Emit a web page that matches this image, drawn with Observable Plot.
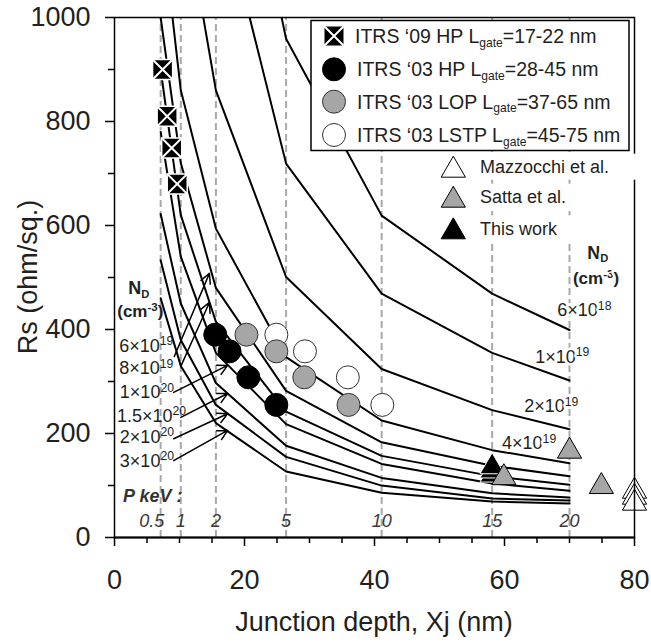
<!DOCTYPE html>
<html><head><meta charset="utf-8">
<script src="https://cdn.jsdelivr.net/npm/d3@7"></script>
<script src="https://cdn.jsdelivr.net/npm/@observablehq/plot@0.6"></script>
<style>body{margin:0;background:#fff}svg{display:block}</style>
</head><body><div id="chart"></div>
<script>
// ---- data ----
const energyLabels = ["0.5", "1", "2", "5", "10", "15", "20"];
const junctionDepths = [7.1, 10.2, 15.6, 26.4, 41.1, 58.1, 70.0];
const dopingNames = ["6e18", "1e19", "2e19", "4e19", "6e19", "8e19", "1e20", "1.5e20", "2e20", "3e20"];
const rs6e18  = [null, null, 1600, 959, 619, 469, 399];
const rs1e19  = [null, null, 1260, 719, 469, 355, 302];
const rs2e19  = [null, 1250, 860, 501, 324, 245, 208];
const rs4e19  = [1200, 860, 594, 347, 225, 168, 143];
const rs6e19  = [1000, 720, 480, 282, 183, 138, 118];
const rs8e19  = [900, 620, 415, 242, 157, 118, 101.5];
const rs1e20  = [780, 540, 355, 218, 141.5, 104, 90];
const rs15e20 = [622, 450, 297, 176.5, 114.6, 85, 77];
const rs2e20  = [533, 380, 255, 155, 99.8, 75, 71];
const rs3e20  = [460, 330, 220, 127, 86, 69, 65.5];
const curves = [rs6e18, rs1e19, rs2e19, rs4e19, rs6e19, rs8e19, rs1e20, rs15e20, rs2e20, rs3e20];

const itrs09X = [7.4, 8.1, 8.8, 9.65];
const itrs09Rs = [900, 810, 749, 680];
const itrsRowRs = [390, 358, 308, 255];
const itrs03hpX = [15.5, 17.7, 20.6, 24.9];
const itrs03lopX = [20.3, 24.9, 29.2, 36.0];
const itrs03lstpX = [24.9, 29.3, 35.9, 41.2];
const mazzocchiX = [80, 80, 80];
const mazzocchiRs = [89, 77.5, 66];
const sattaX = [59.9, 70.0, 74.9];
const sattaRs = [115, 166, 98];
const thisWorkX = [58.1, 58.1, 58.1];
const thisWorkRs = [120, 128, 136];

// annotation text (left curve labels with arrows, right curve labels)
const leftLabels = [
  {m: "6", e: "19", tx: 0.8, ty: 356, ax1: 9.2, ay1: 348, ax2: 14.6, ay2: 508},
  {m: "8", e: "19", tx: 0.8, ty: 313, ax1: 10.2, ay1: 329, ax2: 14.6, ay2: 452},
  {m: "1", e: "20", tx: 0.9, ty: 267, ax1: 9.1, ay1: 279, ax2: 17.4, ay2: 331},
  {m: "1.5", e: "20", tx: 0.45, ty: 222, ax1: 10.2, ay1: 231, ax2: 17.4, ay2: 277},
  {m: "2", e: "20", tx: 0.9, ty: 181, ax1: 9.1, ay1: 190, ax2: 17.4, ay2: 238},
  {m: "3", e: "20", tx: 0.9, ty: 135, ax1: 9.1, ay1: 148, ax2: 17.4, ay2: 206}
];
const rightLabels = [
  {m: "6", e: "18", tx: 68.2, ty: 425},
  {m: "1", e: "19", tx: 64.8, ty: 335},
  {m: "2", e: "19", tx: 63.1, ty: 240},
  {m: "4", e: "19", tx: 59.7, ty: 169}
];

// ---- tables ----
const curveRows = [];
curves.forEach((vals, i) => vals.forEach((v, j) => {
  if (v != null) curveRows.push({nd: dopingNames[i], xj: junctionDepths[j], rs: v});
}));
const pts = (xs, ys) => xs.map((x, i) => ({x, y: ys[i]}));
const itrsRs = (xs) => xs.map((x, i) => ({x, y: itrsRowRs[i]}));
const energyRows = energyLabels.map((e, i) => ({e, x: junctionDepths[i]}));

const FONT = "Liberation Sans, Arial, Helvetica, sans-serif";
const INK = "#231f20";

const plot = Plot.plot({
  width: 651, height: 642,
  marginLeft: 114, marginRight: 17, marginTop: 17, marginBottom: 105,
  x: {domain: [0, 80]},
  y: {domain: [0, 1000]},
  style: {fontFamily: FONT, color: INK, background: "white", overflow: "visible"},
  marks: [
    Plot.ruleX(junctionDepths, {y1: 0, y2: 1000, stroke: "#a9a9a9", strokeWidth: 2, strokeDasharray: "7,4"}),
    Plot.line(curveRows, {x: "xj", y: "rs", z: "nd", stroke: "black", strokeWidth: 2, clip: true}),
    Plot.arrow(leftLabels, {x1: "ax1", y1: "ay1", x2: "ax2", y2: "ay2", stroke: "black", strokeWidth: 1.5, headLength: 11, headAngle: 55}),
    Plot.dot(itrsRs(itrs03lstpX), {x: "x", y: "y", r: 11.5, fill: "white", stroke: "#333", strokeWidth: 1}),
    Plot.dot(itrsRs(itrs03lopX), {x: "x", y: "y", r: 11.5, fill: "#a6a6a6", stroke: "#333", strokeWidth: 1}),
    Plot.dot(itrsRs(itrs03hpX), {x: "x", y: "y", r: 11.5, fill: "black", stroke: "black", strokeWidth: 1}),
    Plot.dot(pts(itrs09X, itrs09Rs), {x: "x", y: "y", symbol: "square", r: 11.3, fill: "black", stroke: "white", strokeWidth: 1.5}),
    Plot.dot(pts(itrs09X, itrs09Rs), {x: "x", y: "y", symbol: "times", r: 9.2, stroke: "white", strokeWidth: 2}),
    Plot.dot(pts(thisWorkX, thisWorkRs), {x: "x", y: "y", symbol: "triangle", r: 9, fill: "black", stroke: "white", strokeWidth: 1}),
    Plot.dot(pts(sattaX, sattaRs), {x: "x", y: "y", symbol: "triangle", r: 9, fill: "#a6a6a6", stroke: "black", strokeWidth: 1}),
    Plot.dot(pts(mazzocchiX, mazzocchiRs), {x: "x", y: "y", symbol: "triangle", r: 9, fill: "white", stroke: "black", strokeWidth: 1, clip: false}),
    Plot.text(energyRows.slice(0, 1), {x: "x", y: 0, text: "e", dy: -16, dx: -9, fontSize: 18, fontStyle: "italic", fill: "#3a3a3a", lineAnchor: "middle"}),
    Plot.text(energyRows.slice(1), {x: "x", y: 0, text: "e", dy: -16, fontSize: 18, fontStyle: "italic", fill: "#3a3a3a", lineAnchor: "middle"}),
    Plot.frame({stroke: "black", strokeWidth: 1.5}),
    Plot.ruleY([0], {stroke: "black", strokeWidth: 2}),
    Plot.axisX({ticks: [0, 20, 40, 60, 80], tickSize: 9, tickPadding: 23, fontSize: 27, label: null, stroke: "black", strokeWidth: 1.5}),
    Plot.axisX({ticks: [5, 10, 15, 25, 30, 35, 45, 50, 55, 65, 70, 75], tickSize: 6, tickFormat: () => "", label: null, stroke: "black", strokeWidth: 1.5}),
    Plot.axisY({ticks: [0, 200, 400, 600, 800, 1000], tickFormat: (d) => String(d), tickSize: 9, tickPadding: 15, fontSize: 27, label: null, stroke: "black", strokeWidth: 1.5}),
    Plot.axisY({ticks: [100, 300, 500, 700, 900], tickSize: 6, tickFormat: () => "", label: null, stroke: "black", strokeWidth: 1.5})
  ]
});
document.getElementById("chart").appendChild(plot);

// ---- annotations drawn in the same svg through the plot's scales ----
const sx = plot.scale("x"), sy = plot.scale("y");
const X = (v) => sx.apply(v), Y = (v) => sy.apply(v);
const svg = d3.select(plot);
const g = svg.append("g").attr("font-family", FONT).attr("fill", INK);

function rich(sel, x, y, parts, size, o = {}) {
  const t = sel.append("text").attr("x", x).attr("y", y).attr("font-size", size)
    .attr("text-anchor", o.anchor || "start");
  if (o.weight) t.attr("font-weight", o.weight);
  if (o.style) t.attr("font-style", o.style);
  if (o.fill) t.attr("fill", o.fill);
  if (o.halo) t.attr("stroke", "white").attr("stroke-width", o.halo).attr("paint-order", "stroke").attr("stroke-linejoin", "round");
  let shift = 0;
  for (const [s, kind] of parts) {
    let target = 0, fs = size;
    if (kind === "sup") { target = -size * 0.36; fs = size * 0.68; }
    if (kind === "sub") { target = size * 0.2; fs = size * 0.62; }
    t.append("tspan").attr("dy", target - shift).attr("font-size", fs).text(s);
    shift = target;
  }
  return t;
}

// energy header
rich(g, X(1.4), Y(67), [["P keV :", ""]], 18, {weight: "bold", style: "italic", fill: "#333"});

// left N_D header and curve labels
rich(g, X(2.2), Y(467), [["N", ""], ["D", "sub"]], 18, {weight: "bold"});
rich(g, X(0.5), Y(423), [["(cm", ""], ["-3", "sup"], [")", ""]], 17, {weight: "bold"});
leftLabels.forEach((d) => rich(g, X(d.tx), Y(d.ty), [[d.m + "\u00d710", ""], [d.e, "sup"]], 18));

// right N_D header and curve labels
rich(g, X(72.8), Y(535), [["N", ""], ["D", "sub"]], 18, {weight: "bold", halo: 5});
rich(g, X(70.6), Y(486), [["(cm", ""], ["-3", "sup"], [")", ""]], 17, {weight: "bold", halo: 5});
rightLabels.forEach((d) => rich(g, X(d.tx), Y(d.ty), [[d.m + "\u00d710", ""], [d.e, "sup"]], 18, {halo: 5}));

// legend box (ITRS markers)
const lg = g.append("g");
lg.append("rect").attr("x", 311).attr("y", 20.5).attr("width", 318).attr("height", 130)
  .attr("fill", "white").attr("stroke", "black").attr("stroke-width", 1.5);
const legendRows = [
  {kind: "box", t: "ITRS \u201809 HP L", r: "=17-22 nm"},
  {kind: "circle", fill: "black", t: "ITRS \u201803 HP L", r: "=28-45 nm"},
  {kind: "circle", fill: "#a6a6a6", t: "ITRS \u201803 LOP L", r: "=37-65 nm"},
  {kind: "circle", fill: "white", t: "ITRS \u201803 LSTP L", r: "=45-75 nm"}
];
const legendY = [36, 69.3, 101.7, 135];
legendRows.forEach((d, i) => {
  const cy = legendY[i], cx = 334;
  if (d.kind === "box") {
    lg.append("rect").attr("x", cx - 10).attr("y", cy - 10).attr("width", 20).attr("height", 20).attr("fill", "black").attr("stroke", "white").attr("stroke-width", 1);
    lg.append("path").attr("d", `M${cx - 10},${cy - 10}L${cx + 10},${cy + 10}M${cx - 10},${cy + 10}L${cx + 10},${cy - 10}`).attr("stroke", "white").attr("stroke-width", 2);
  } else {
    lg.append("circle").attr("cx", cx).attr("cy", cy).attr("r", 11.5).attr("fill", d.fill).attr("stroke", d.fill === "black" ? "black" : "#333");
  }
  rich(lg, i === 0 ? 355 : 357, cy + 6.8, [[d.t, ""], ["gate", "sub"], [d.r, ""]], 19.5);
});

// triangle legend
const triRows = [
  {fill: "white", t: "Mazzocchi et al."},
  {fill: "#a6a6a6", t: "Satta et al."},
  {fill: "black", t: "This work"}
];
const triY = [166.7, 196.7, 228.3];
const tri = d3.symbol(d3.symbolTriangle, Math.PI * 81);
triRows.forEach((d, i) => {
  lg.append("rect").attr("x", 440).attr("y", triY[i] - 13).attr("width", d.t.length * 9.6 + 45).attr("height", 26).attr("fill", "white");
  lg.append("path").attr("d", tri()).attr("transform", `translate(453.3,${triY[i] + 3.5})`).attr("fill", d.fill).attr("stroke", "black").attr("stroke-width", 1);
  rich(lg, 480, triY[i] + 6.5, [[d.t, ""]], 18);
});

// axis titles
g.append("text").attr("x", 374).attr("y", 631).attr("text-anchor", "middle").attr("font-size", 27).text("Junction depth, Xj (nm)");
g.append("text").attr("transform", "translate(37,277) rotate(-90)").attr("text-anchor", "middle").attr("font-size", 27).text("Rs (ohm/sq.)");
</script>
</body></html>
